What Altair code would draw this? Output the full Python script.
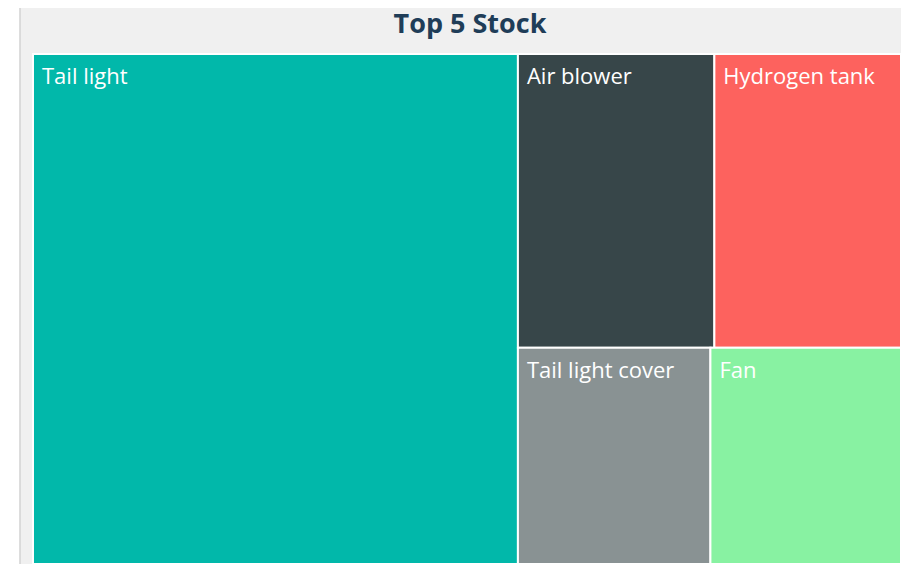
import altair as alt
import pandas as pd

# ---- data ----
title_text = "Top 5 Stock"
names = ["Tail light", "Air blower", "Hydrogen tank", "Tail light cover", "Fan"]
values = [600, 140, 133, 101, 100]
colors = ["#01B8AA", "#374649", "#FD625E", "#899293", "#88F2A2"]

W, H = 868, 510  # plot area size


def worst(row, side):
    s = sum(row)
    return max(max(side * side * r / (s * s), s * s / (side * side * r)) for r in row)


def squarify(vals, x, y, w, h):
    out = []
    vals = list(vals)
    while vals:
        side = min(w, h)
        row = [vals[0]]
        i = 1
        while i < len(vals) and worst(row + [vals[i]], side) <= worst(row, side):
            row.append(vals[i])
            i += 1
        s = sum(row)
        if w >= h:
            cw = s / h
            yy = y
            for r in row:
                rh = r / cw
                out.append((x, yy, x + cw, yy + rh))
                yy += rh
            x += cw
            w -= cw
        else:
            rh = s / w
            xx = x
            for r in row:
                rw = r / rh
                out.append((xx, y, xx + rw, y + rh))
                xx += rw
            y += rh
            h -= rh
        vals = vals[i:]
    return out


total = sum(values)
areas = [v / total * W * H for v in values]
rects = squarify(areas, 0, 0, W, H)
df = pd.DataFrame({
    "name": names,
    "value": values,
    "x0": [r[0] for r in rects],
    "y0": [r[1] for r in rects],
    "x1": [r[2] for r in rects],
    "y1": [r[3] for r in rects],
})

xs = alt.Scale(domain=[0, W], nice=False, zero=False)
ys = alt.Scale(domain=[0, H], nice=False, zero=False, reverse=True)

panel = alt.Chart(alt.Data(values=[{}])).mark_rect(
    fill="#F0F0F0", stroke="#D2D2D2", strokeWidth=1.5, clip=False
).encode(
    x=alt.value(-13), x2=alt.value(880), y=alt.value(-53), y2=alt.value(540)
)

title = alt.Chart(alt.Data(values=[{"t": title_text}])).mark_text(
    align="center", baseline="alphabetic", font="Open Sans", fontSize=27,
    fontWeight="bold", color="#1F3D58", clip=False
).encode(
    x=alt.value(W / 2 + 3), y=alt.value(-21), text="t:N"
)

base = alt.Chart(df)
cells = base.mark_rect(stroke="white", strokeWidth=2).encode(
    x=alt.X("x0:Q", scale=xs, axis=None),
    x2="x1:Q",
    y=alt.Y("y0:Q", scale=ys, axis=None),
    y2="y1:Q",
    color=alt.Color("name:N", scale=alt.Scale(domain=names, range=colors), legend=None),
    tooltip=["name:N", "value:Q"],
)
labels = base.mark_text(
    align="left", baseline="alphabetic", dx=9, dy=30,
    font="Open Sans", fontSize=22, color="white"
).encode(
    x=alt.X("x0:Q", scale=xs, axis=None),
    y=alt.Y("y0:Q", scale=ys, axis=None),
    text="name:N",
)

chart = alt.layer(panel, title, cells, labels).properties(
    width=W, height=H,
    autosize=alt.AutoSizeParams(type="none"),
    padding={"left": 25, "top": 46, "right": 0, "bottom": 0},
    background="white",
).configure_view(stroke=None)

chart.save("out.html", embed_options={"renderer": "svg", "actions": False})
